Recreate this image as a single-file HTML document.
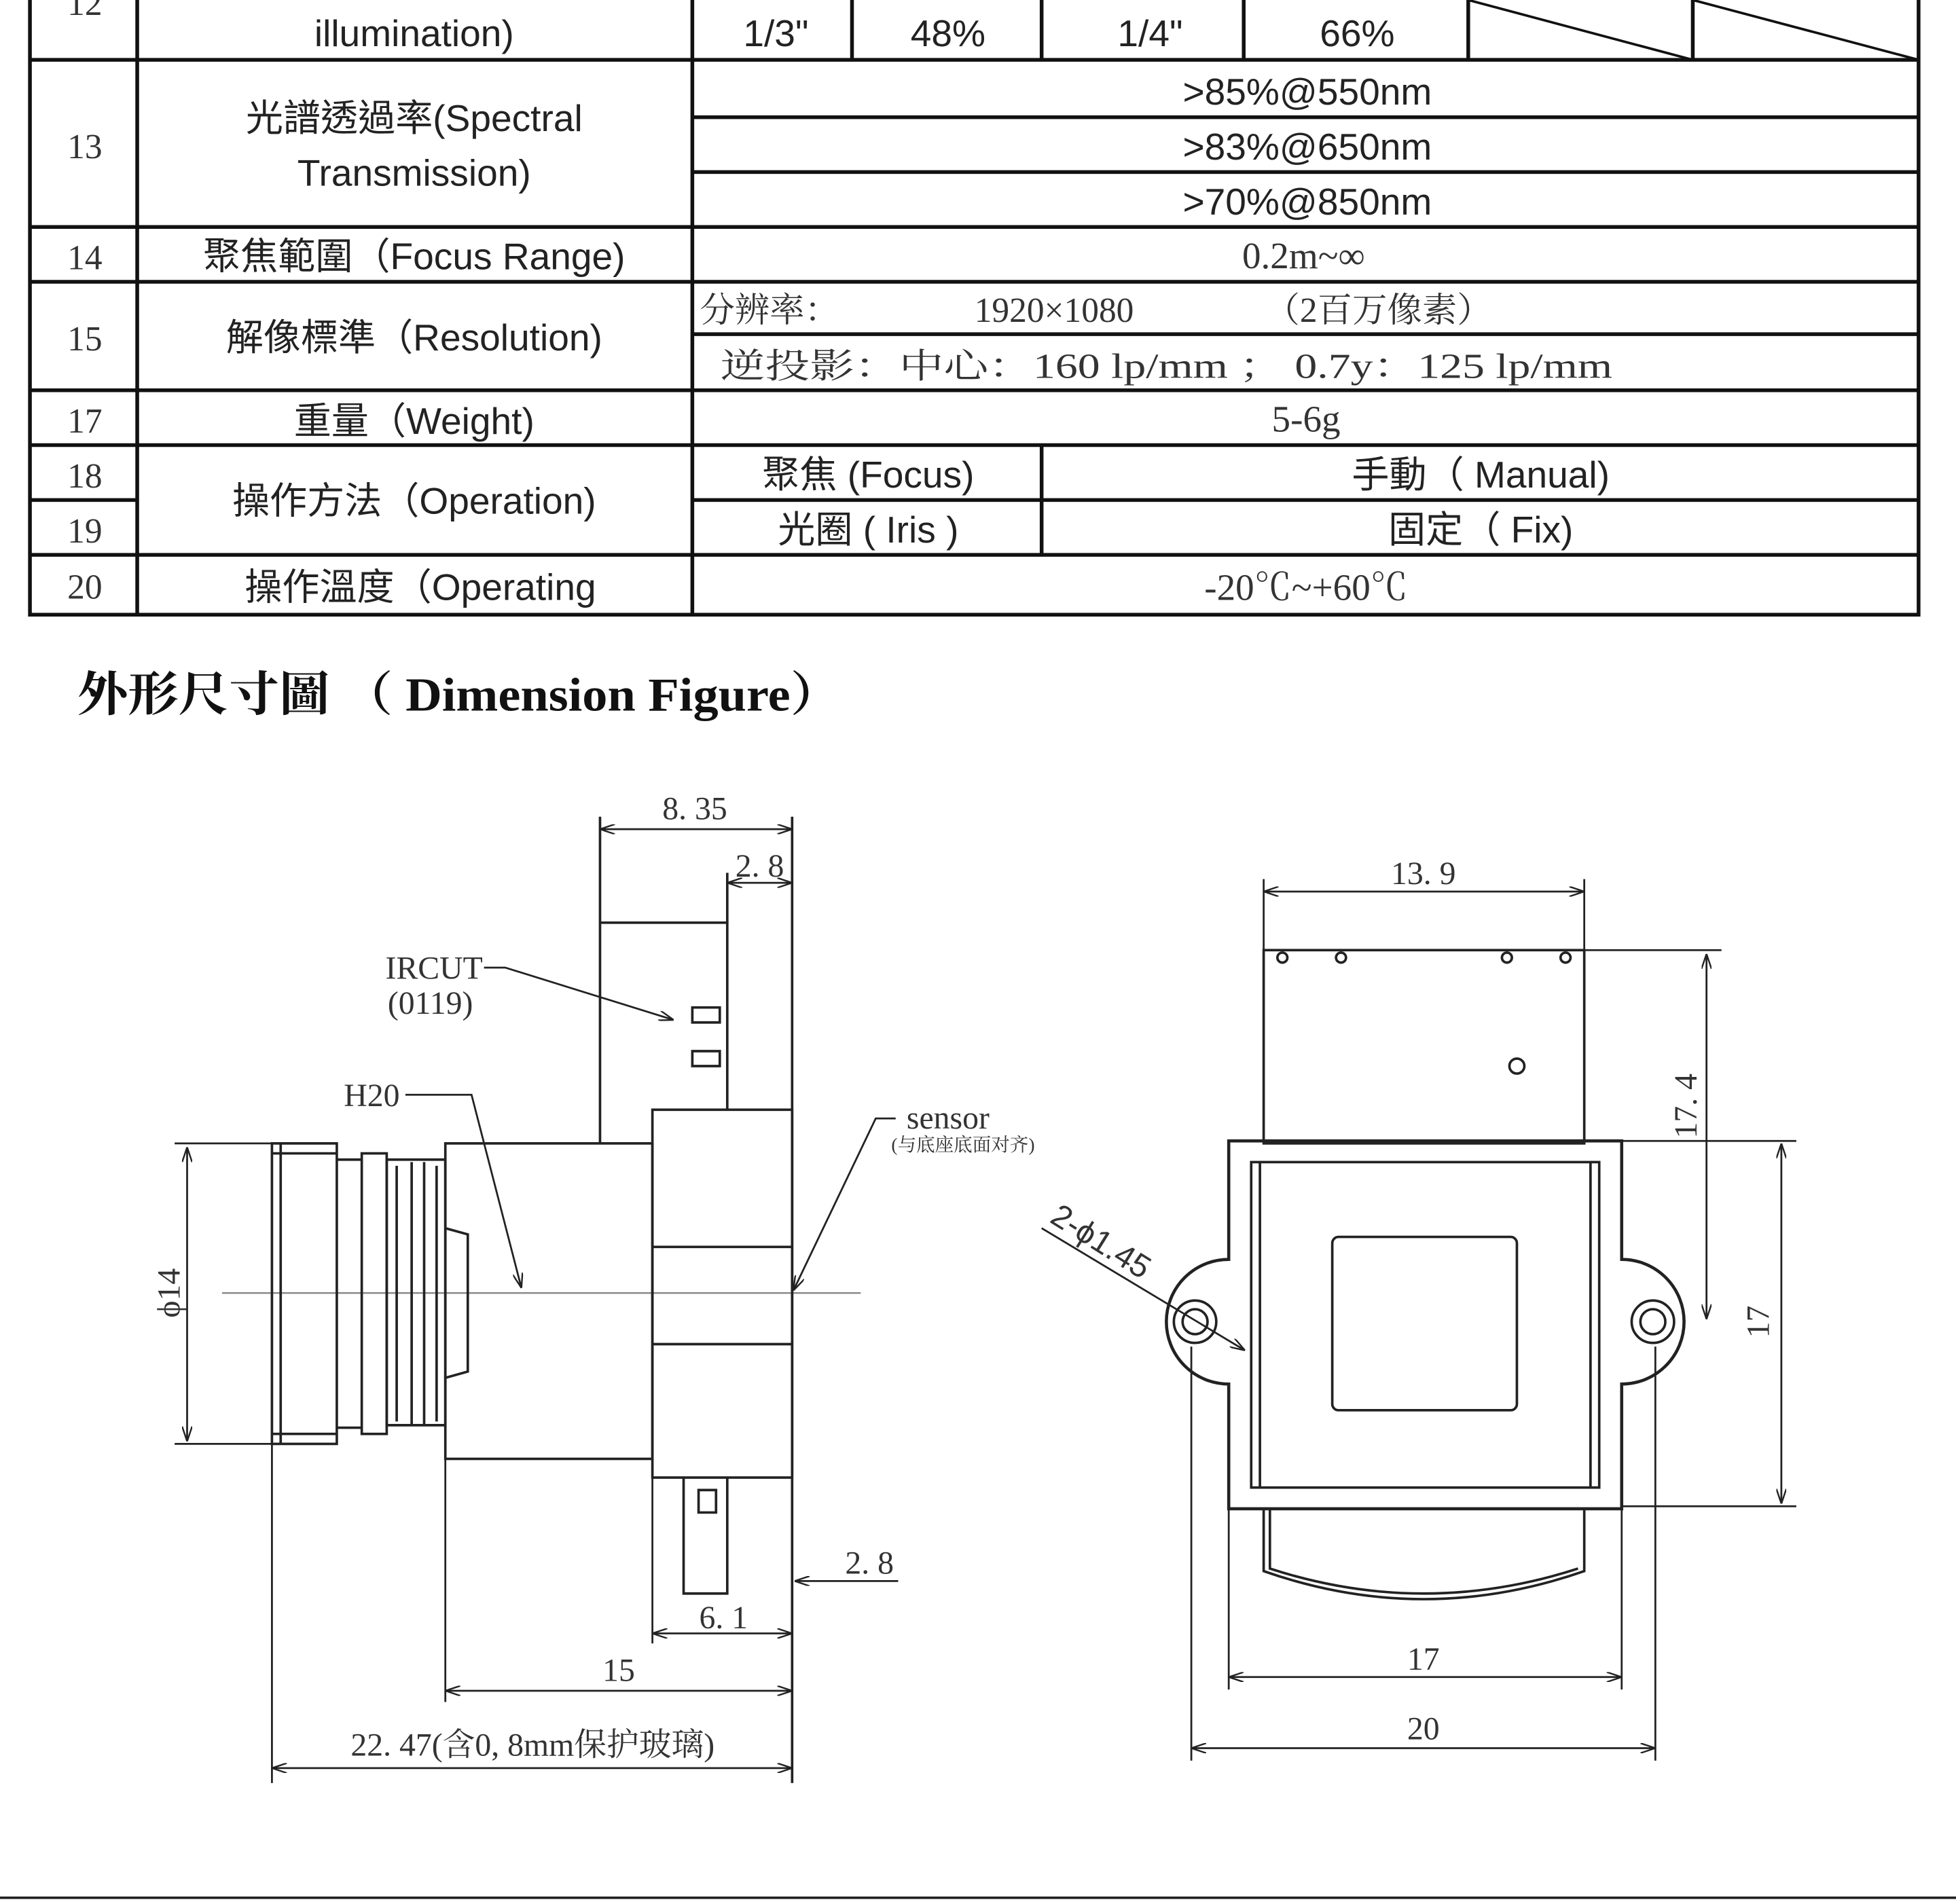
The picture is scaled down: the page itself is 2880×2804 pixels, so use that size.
<!DOCTYPE html>
<html><head><meta charset="utf-8"><style>
html,body{margin:0;padding:0;background:#fff;}
svg{display:block;}
.t{font-family:"Liberation Sans","Noto Sans CJK TC",sans-serif;font-size:30px;fill:#222;text-anchor:middle;}
.s{font-family:"Liberation Serif","Noto Serif CJK SC",serif;fill:#333;text-anchor:middle;}
</style></head><body>
<svg width="2880" height="2804" viewBox="0 0 1568 1527" preserveAspectRatio="none" xmlns="http://www.w3.org/2000/svg">
<defs>
<marker id="a" viewBox="0 0 12 8" refX="12" refY="4" markerWidth="12" markerHeight="8" markerUnits="userSpaceOnUse" orient="auto-start-reverse"><path d="M0,0 L12,4 L0,8" fill="none" stroke="#222" stroke-width="1.3"/></marker>
</defs>
<rect width="1568" height="1527" fill="#fff"/>
<g stroke="#111" stroke-width="3" fill="none">
<path d="M24,0 V493 H1538 V0"/>
<path d="M110,0 V493 M555,0 V493"/>
<path d="M24,48 H1538 M555,94 H1538 M555,138 H1538 M24,182 H1538 M24,226 H1538 M555,268 H1538 M24,313 H1538 M24,357 H1538 M24,401 H110 M555,401 H1538 M24,445 H1538"/>
<path d="M683,0 V48 M835,0 V48 M997,0 V48 M1177,0 V48 M1357,0 V48"/>
<path d="M1177,0 L1357,48 M1357,0 L1538,48" stroke-width="2"/>
<path d="M835,357 V445"/>
</g>
<g class="t">
<text x="68" y="12" class="s" style="font-size:28px">12</text>
<text x="332" y="37">illumination)</text>
<text x="622" y="37">1/3"</text><text x="760" y="37">48%</text><text x="922" y="37">1/4"</text><text x="1088" y="37">66%</text>
<text x="68" y="127" class="s" style="font-size:28px">13</text>
<text x="332" y="105">光譜透過率(Spectral</text>
<text x="332" y="149">Transmission)</text>
<text x="1048" y="84">&gt;85%@550nm</text>
<text x="1048" y="128">&gt;83%@650nm</text>
<text x="1048" y="172">&gt;70%@850nm</text>
<text x="68" y="216" class="s" style="font-size:28px">14</text>
<text x="332" y="216">聚焦範圍（Focus Range)</text>
<text x="1045" y="215" class="s" style="font-size:30px">0.2m~∞</text>
<text x="68" y="281" class="s" style="font-size:28px">15</text>
<text x="332" y="281">解像標準（Resolution)</text>
<text x="617" y="258" class="s" style="font-size:28px">分辨率：</text>
<text x="845" y="258" class="s" style="font-size:28px">1920×1080</text>
<text x="1105" y="258" class="s" style="font-size:28px">（2百万像素）</text>
<text x="935" y="303" class="s" style="font-size:28px" textLength="715" lengthAdjust="spacingAndGlyphs">逆投影：中心：160 lp/mm  ；   0.7y：125 lp/mm</text>
<text x="68" y="347" class="s" style="font-size:28px">17</text>
<text x="332" y="348">重量（Weight)</text>
<text x="1047" y="346" class="s" style="font-size:30px">5-6g</text>
<text x="68" y="391" class="s" style="font-size:28px">18</text>
<text x="68" y="435" class="s" style="font-size:28px">19</text>
<text x="332" y="412">操作方法（Operation)</text>
<text x="696" y="391">聚焦 (Focus)</text>
<text x="1187" y="391">手動（ Manual)</text>
<text x="696" y="435">光圈 ( Iris )</text>
<text x="1187" y="435">固定（ Fix)</text>
<text x="68" y="480" class="s" style="font-size:28px">20</text>
<text x="337" y="481">操作溫度（Operating</text>
<text x="1047" y="481" class="s" style="font-size:30px">-20℃~+60℃</text>
</g>
<text x="62" y="570" textLength="612" lengthAdjust="spacingAndGlyphs" style="font-family:'Liberation Serif','Noto Serif CJK SC',serif;font-weight:bold;font-size:38px;fill:#111">外形尺寸圖 （ Dimension Figure）</text>

<g stroke="#222" stroke-width="2" fill="none">
<path d="M178,1037 H690" stroke="#888" stroke-width="1.3"/>
<path d="M481,655 V917 M635,655 V1430 M583,700 V740"/>
<path d="M481,740 H583 V890"/>
<path d="M555,808 h22 v12 h-22 z M555,843 h22 v12 h-22 z"/>
<rect x="523" y="890" width="112" height="295"/>
<path d="M523,1000 H635 M523,1078 H635"/>
<rect x="357" y="917" width="166" height="253"/>
<path d="M310,930 H357 V1143 H310 Z M318,935 V1140 M330,932 V1142 M340,932 V1142 M350,935 V1140"/>
<path d="M357,985 L375,990 V1100 L357,1105"/>
<rect x="290" y="925" width="20" height="225"/>
<rect x="218" y="917" width="52" height="241"/>
<path d="M270,930 H290 M270,1145 H290 M225,917 V1158 M218,925 H270 M218,1150 H270"/>
<path d="M548,1185 V1278 H583 V1185 M560,1195 h14 v18 h-14 z"/>
<path d="M481,665 H635" marker-start="url(#a)" marker-end="url(#a)" stroke-width="1.5"/>
<path d="M583,708 H635" marker-start="url(#a)" marker-end="url(#a)" stroke-width="1.5"/>
<path d="M140,917 H218 M140,1158 H218" stroke-width="1.5"/>
<path d="M150,920 V1156" marker-start="url(#a)" marker-end="url(#a)" stroke-width="1.5"/>
<path d="M523,1185 V1318 M357,1170 V1365 M218,1158 V1430" stroke-width="1.5"/>
<path d="M523,1310 H635" marker-start="url(#a)" marker-end="url(#a)" stroke-width="1.5"/>
<path d="M720,1268 H637" marker-end="url(#a)" stroke-width="1.5"/>
<path d="M357,1356 H635" marker-start="url(#a)" marker-end="url(#a)" stroke-width="1.5"/>
<path d="M218,1418 H635" marker-start="url(#a)" marker-end="url(#a)" stroke-width="1.5"/>
<path d="M388,776 H405 L540,818" marker-end="url(#a)" stroke-width="1.5"/>
<path d="M325,878 H378 L418,1033" marker-end="url(#a)" stroke-width="1.5"/>
<path d="M718,897 H702 L636,1035" marker-end="url(#a)" stroke-width="1.5"/>
</g>
<g class="s" style="font-size:26px">
<text x="557" y="657">8. 35</text>
<text x="609" y="703">2. 8</text>
<text x="348" y="785">IRCUT</text>
<text x="345" y="813">(0119)</text>
<text x="298" y="887">H20</text>
<text x="760" y="905">sensor</text>
<text x="772" y="923" style="font-size:15px">(与底座底面对齐)</text>
<text x="697" y="1262">2. 8</text>
<text x="580" y="1306">6. 1</text>
<text x="496" y="1348">15</text>
<text x="427" y="1408">22. 47(含0, 8mm保护玻璃)</text>
<text transform="translate(144,1037) rotate(-90)">ϕ14</text>
</g>

<g stroke="#222" stroke-width="2" fill="none">
<rect x="1013" y="762" width="257" height="155"/>
<circle cx="1028" cy="768" r="4"/><circle cx="1075" cy="768" r="4"/><circle cx="1208" cy="768" r="4"/><circle cx="1255" cy="768" r="4"/>
<circle cx="1216" cy="855" r="6"/>
<path d="M985,915 H1300 V1010 A42,42 0 0 1 1300,1110 V1210 H985 V1110 A42,42 0 0 1 985,1010 Z" stroke-width="2.5"/>
<rect x="1003" y="932" width="279" height="261"/>
<path d="M1010,932 V1193 M1275,932 V1193"/>
<rect x="1068" y="992" width="148" height="139" rx="5"/>
<circle cx="958" cy="1060" r="17"/><circle cx="958" cy="1060" r="10"/>
<circle cx="1325" cy="1060" r="17"/><circle cx="1325" cy="1060" r="10"/>
<path d="M1013,1210 V1260 Q1141,1305 1270,1260 V1210"/>
<path d="M1018,1210 V1258 Q1141,1298 1265,1258"/>
<path d="M1013,705 V762 M1270,705 V762" stroke-width="1.5"/>
<path d="M1013,715 H1270" marker-start="url(#a)" marker-end="url(#a)" stroke-width="1.5"/>
<path d="M1270,762 H1380 M1300,915 H1440 M1300,1208 H1440" stroke-width="1.5"/>
<path d="M1368,765 V1058" marker-start="url(#a)" marker-end="url(#a)" stroke-width="1.5"/>
<path d="M1428,917 V1206" marker-start="url(#a)" marker-end="url(#a)" stroke-width="1.5"/>
<path d="M985,1210 V1355 M1300,1210 V1355 M955,1080 V1412 M1327,1080 V1412" stroke-width="1.5"/>
<path d="M985,1345 H1300" marker-start="url(#a)" marker-end="url(#a)" stroke-width="1.5"/>
<path d="M955,1402 H1327" marker-start="url(#a)" marker-end="url(#a)" stroke-width="1.5"/>
<path d="M835,985 L998,1083" marker-end="url(#a)" stroke-width="1.5"/>
</g>
<g class="s" style="font-size:26px">
<text x="1141" y="709">13. 9</text>
<text x="1141" y="1339">17</text>
<text x="1141" y="1395">20</text>
<text transform="translate(1360,887) rotate(-90)">17. 4</text>
<text transform="translate(1418,1060) rotate(-90)">17</text>
<text transform="translate(878,1003) rotate(32)" style="font-family:'Liberation Sans',sans-serif">2-ϕ1.45</text>
</g>
<path d="M0,1522 H1568" stroke="#222" stroke-width="2"/>
</svg>
</body></html>
